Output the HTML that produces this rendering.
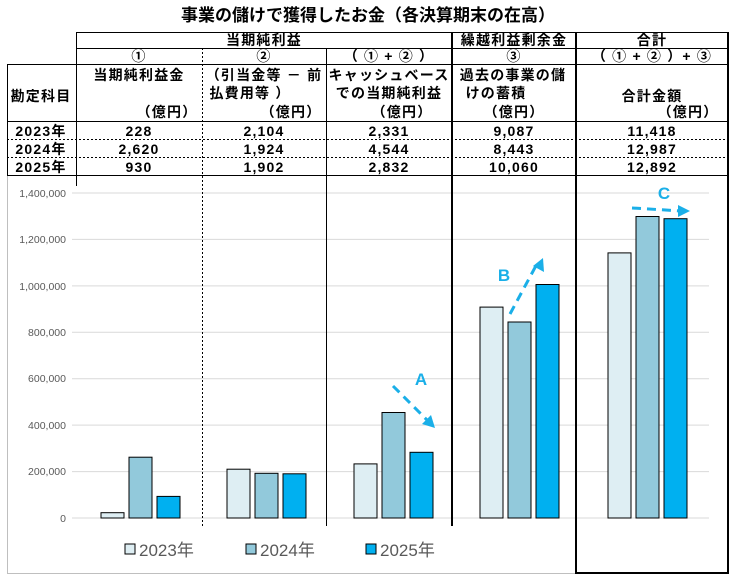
<!DOCTYPE html>
<html><head><meta charset="utf-8"><style>
html,body{margin:0;padding:0;background:#fff;}
svg{display:block;}
.t{font-family:"Liberation Sans","Noto Sans CJK JP",sans-serif;font-size:14px;font-weight:bold;fill:#000;letter-spacing:1.2px;}
.ax{font-family:"Liberation Sans",sans-serif;font-size:10.5px;fill:#595959;}
.lg{font-family:"Liberation Sans","Noto Sans CJK JP",sans-serif;font-size:17px;fill:#595959;}
.ab{font-family:"Liberation Sans",sans-serif;font-size:17px;font-weight:bold;fill:#1AAFE8;}
</style></head><body>
<svg width="736" height="577" viewBox="0 0 736 577" xmlns="http://www.w3.org/2000/svg">
<text x="368" y="21" text-anchor="middle" font-family="Liberation Sans,Noto Sans CJK JP,sans-serif" font-size="17" font-weight="bold">事業の儲けで獲得したお金（各決算期末の在高）</text>
<rect x="7.5" y="175.5" width="720" height="398" fill="none" stroke="#bfbfbf"/>
<g stroke="#d9d9d9" stroke-width="1">
<line x1="72" x2="709" y1="193" y2="193"/><line x1="72" x2="709" y1="239.4" y2="239.4"/>
<line x1="72" x2="709" y1="285.9" y2="285.9"/><line x1="72" x2="709" y1="332.3" y2="332.3"/>
<line x1="72" x2="709" y1="378.7" y2="378.7"/><line x1="72" x2="709" y1="425.1" y2="425.1"/>
<line x1="72" x2="709" y1="471.6" y2="471.6"/><line x1="72" x2="709" y1="518" y2="518"/>
</g>
<g class="ax" text-anchor="end">
<text x="66" y="197">1,400,000</text><text x="66" y="243">1,200,000</text>
<text x="66" y="290">1,000,000</text><text x="66" y="336">800,000</text>
<text x="66" y="382">600,000</text><text x="66" y="429">400,000</text>
<text x="66" y="475">200,000</text><text x="66" y="522">0</text>
</g>
<g stroke="#000" stroke-width="1">
<rect x="101" y="512.7" width="23" height="5.3" fill="#DEEEF3"/>
<rect x="129" y="457.2" width="23" height="60.8" fill="#92C9DB"/>
<rect x="157" y="496.4" width="23" height="21.6" fill="#00B0F0"/>
<rect x="227" y="469.2" width="23" height="48.8" fill="#DEEEF3"/>
<rect x="255" y="473.3" width="23" height="44.7" fill="#92C9DB"/>
<rect x="283" y="473.8" width="23" height="44.2" fill="#00B0F0"/>
<rect x="354" y="463.9" width="23" height="54.1" fill="#DEEEF3"/>
<rect x="382" y="412.5" width="23" height="105.5" fill="#92C9DB"/>
<rect x="410" y="452.3" width="23" height="65.7" fill="#00B0F0"/>
<rect x="480" y="307.1" width="23" height="210.9" fill="#DEEEF3"/>
<rect x="508" y="322" width="23" height="196" fill="#92C9DB"/>
<rect x="536" y="284.5" width="23" height="233.5" fill="#00B0F0"/>
<rect x="608" y="252.9" width="23" height="265.1" fill="#DEEEF3"/>
<rect x="636" y="216.5" width="23" height="301.5" fill="#92C9DB"/>
<rect x="664" y="218.7" width="23" height="299.3" fill="#00B0F0"/>
</g>
<g stroke="#1AAFE8" stroke-width="3" stroke-dasharray="9,6" fill="none">
<line x1="393" y1="386" x2="428" y2="421"/>
<line x1="510" y1="314" x2="538" y2="262"/>
<line x1="632" y1="208" x2="682" y2="211"/>
</g>
<g fill="#1AAFE8">
<polygon points="435,428 422,424 431,415"/>
<polygon points="543,258 544,272 533,266"/>
<polygon points="690,211 678,205 678,217"/>
</g>
<text class="ab" x="421" y="385" text-anchor="middle">A</text>
<text class="ab" x="504" y="281" text-anchor="middle">B</text>
<text class="ab" x="664" y="199" text-anchor="middle">C</text>
<rect x="125" y="544" width="10" height="10" fill="#DEEEF3" stroke="#000"/>
<text class="lg" x="139" y="556">2023年</text>
<rect x="246" y="544" width="10" height="10" fill="#92C9DB" stroke="#000"/>
<text class="lg" x="260" y="556">2024年</text>
<rect x="366" y="544" width="10" height="10" fill="#00B0F0" stroke="#000"/>
<text class="lg" x="380" y="556">2025年</text>
<g stroke="#000" stroke-width="1" fill="none">
<line x1="76" y1="32.5" x2="728" y2="32.5"/>
<line x1="76" y1="48.5" x2="728" y2="48.5"/>
<line x1="7" y1="64.5" x2="728" y2="64.5"/>
<line x1="7" y1="121.5" x2="728" y2="121.5"/>
<line x1="7" y1="175.5" x2="728" y2="175.5"/>
<line x1="7.5" y1="64" x2="7.5" y2="176"/>
<line x1="76.5" y1="32" x2="76.5" y2="186"/>
<line x1="326.5" y1="48" x2="326.5" y2="526"/>
<line x1="728" y1="32" x2="728" y2="574" stroke-width="2"/>
</g>
<g stroke="#000" stroke-width="1" stroke-dasharray="2,2">
<line x1="7" y1="139.5" x2="728" y2="139.5"/>
<line x1="7" y1="157.5" x2="728" y2="157.5"/>
<line x1="202.5" y1="48" x2="202.5" y2="526"/>
</g>
<line x1="452" y1="32" x2="452" y2="526" stroke="#000" stroke-width="2"/>
<line x1="576" y1="32" x2="576" y2="574" stroke="#000" stroke-width="2"/>
<line x1="576" y1="573" x2="728" y2="573" stroke="#000" stroke-width="2"/>
<g class="t" text-anchor="middle">
<text x="264" y="45">当期純利益</text>
<text x="514" y="45">繰越利益剰余金</text>
<text x="652" y="45">合計</text>
<text x="139" y="61">①</text>
<text x="264" y="61">②</text>
<text x="389" y="61">（ ① + ② ）</text>
<text x="514" y="61">③</text>
<text x="652" y="61">（ ① + ② ）+ ③</text>
<text x="41" y="101">勘定科目</text>
<text x="139" y="80">当期純利益金</text>
<text x="167" y="117">（億円）</text>
<text x="264" y="80">（引当金等 － 前</text>
<text x="250" y="98">払費用等 ）</text>
<text x="291" y="117">（億円）</text>
<text x="389" y="80">キャッシュベース</text>
<text x="389" y="98">での当期純利益</text>
<text x="402" y="117">（億円）</text>
<text x="513" y="80">過去の事業の儲</text>
<text x="496" y="98">けの蓄積</text>
<text x="514" y="117">（億円）</text>
<text x="652" y="101">合計金額</text>
<text x="688" y="117">（億円）</text>
<text x="41" y="136">2023年</text><text x="41" y="154">2024年</text><text x="41" y="172">2025年</text>
<text x="139" y="136">228</text><text x="139" y="154">2,620</text><text x="139" y="172">930</text>
<text x="264" y="136">2,104</text><text x="264" y="154">1,924</text><text x="264" y="172">1,902</text>
<text x="389" y="136">2,331</text><text x="389" y="154">4,544</text><text x="389" y="172">2,832</text>
<text x="514" y="136">9,087</text><text x="514" y="154">8,443</text><text x="514" y="172">10,060</text>
<text x="652" y="136">11,418</text><text x="652" y="154">12,987</text><text x="652" y="172">12,892</text>
</g>
</svg>
</body></html>
